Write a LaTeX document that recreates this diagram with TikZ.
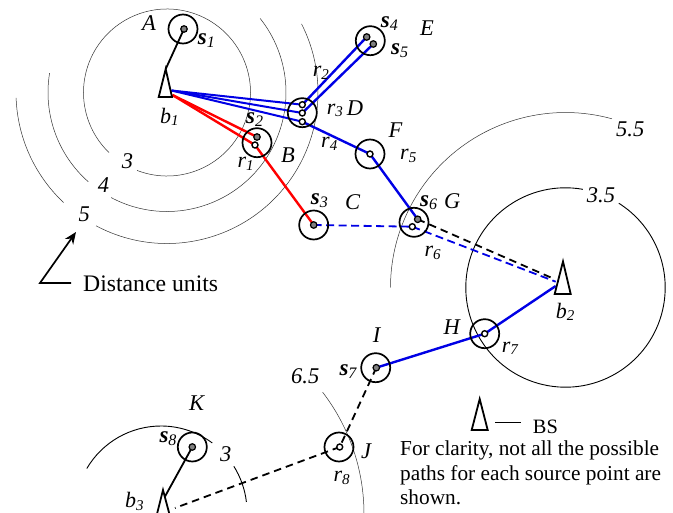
\documentclass[tikz,border=0pt]{standalone}
\usepackage{fontspec}
\setmainfont{Liberation Serif}
\usetikzlibrary{arrows.meta,backgrounds}
\newcommand\ringarc[5]{\draw[#1] ([shift={(-#4:#3)}]#2) arc[start angle=-#4,end angle=-#5,radius=#3];}
\newcommand\sLab[1]{{\fontsize{23}{24}\selectfont\bfseries\itshape s}\raisebox{-3pt}{\fontsize{16}{16}\selectfont\itshape #1}}
\newcommand\subLab[2]{{\fontsize{22}{24}\selectfont\itshape #1}\raisebox{-2.5pt}{\fontsize{15}{16}\selectfont\itshape #2}}
\tikzset{
  x=1pt,y=-1pt,
  ring/.style={circle,draw=black,line width=1.7pt,minimum size=29pt,inner sep=0pt},
  gdot/.style={circle,draw=black,fill=black!50,line width=1.2pt,minimum size=6.5pt,inner sep=0pt},
  wdot/.style={circle,draw=black,fill=white,line width=1.4pt,minimum size=6pt,inner sep=0pt},
  lab/.style={anchor=base west,inner sep=0pt,font=\fontsize{22.5}{24}\selectfont\itshape},
  plain/.style={anchor=base west,inner sep=0pt},
  thinarc/.style={line width=0.5pt,black!80},
  solidarc/.style={line width=0.9pt,black},
  bsmark/.style={line width=1.8pt,line join=miter,draw=black},
  bluelink/.style={line width=2.4pt,blue!90!black},
  redlink/.style={line width=2.4pt,red},
  blacklink/.style={line width=1.8pt,black},
  bluedash/.style={line width=1.8pt,blue!90!black,dash pattern=on 8pt off 4.5pt},
  blackdash/.style={line width=1.8pt,black,dash pattern=on 7.5pt off 5pt},
}
\begin{document}
\begin{tikzpicture}
\useasboundingbox (0,0) rectangle (673,513);
% centres of distance arcs
\coordinate (c1) at (167,92.5);
\coordinate (c2) at (565.5,287.5);
\coordinate (c3) at (161,512);
\coordinate (c4) at (164,514);
% base stations
\coordinate (b1a) at (165.7,69); \coordinate (b1l) at (158.7,97); \coordinate (b1r) at (172,97);
\coordinate (b1u) at (171.5,90.5); \coordinate (b1d) at (172.5,95);
\coordinate (b2a) at (563,261.5); \coordinate (b2l) at (554.7,294); \coordinate (b2r) at (570.7,294);
\coordinate (b2u) at (552.7,278.3); \coordinate (b2m) at (555.7,281.7); \coordinate (b2h) at (555.7,286);
\coordinate (b3a) at (163,490); \coordinate (b3l) at (155.5,520); \coordinate (b3r) at (171,520);
\coordinate (b3k) at (165,496.5); \coordinate (b3j) at (175,508);
\coordinate (la) at (479.7,399); \coordinate (ll) at (471.7,430); \coordinate (lr) at (487.7,430);
\coordinate (ln1) at (495.3,422.7); \coordinate (ln2) at (520.7,422.7);
\coordinate (ar0) at (71,283); \coordinate (ar1) at (40,283); \coordinate (ar2) at (76,232);
% rings
\node[ring] (A) at (183,29) {};
\node[ring] (B) at (257,142.7) {};
\node[ring] (C) at (313.7,225) {};
\node[ring] (D) at (302.3,112.7) {};
\node[ring] (E) at (370.3,40.7) {};
\node[ring] (F) at (370,154) {};
\node[ring] (G) at (414,222.3) {};
\node[ring] (H) at (484.7,333.7) {};
\node[ring] (I) at (375.7,367.7) {};
\node[ring] (J) at (339,447) {};
\node[ring] (K) at (192.3,447) {};
% points
\node[gdot] (s1) at (184,29) {};
\node[gdot] (s2) at (257,137) {};
\node[gdot] (s3) at (313.7,225) {};
\node[gdot] (s4) at (366.7,37) {};
\node[gdot] (s5) at (373.3,44) {};
\node[gdot] (s6) at (417.7,219.3) {};
\node[gdot] (s7) at (376.3,367.7) {};
\node[gdot] (s8) at (192.3,447) {};
\node[wdot] (r1) at (255,145) {};
\node[wdot] (r2) at (302.3,104.7) {};
\node[wdot] (r3) at (302.3,113) {};
\node[wdot] (r4) at (302.3,121.7) {};
\node[wdot] (r5) at (370,154) {};
\node[wdot] (r6) at (412.3,226.7) {};
\node[wdot] (r7) at (484.7,333.7) {};
\node[wdot] (r8) at (339.7,447) {};
\begin{scope}[on background layer]
\fill[white] (0,0) rectangle (673,513);
% distance arcs
\ringarc{thinarc}{c1}{83.5}{249}{586}
\ringarc{thinarc}{c1}{119}{242}{398.5}
\ringarc{thinarc}{c1}{119}{170.6}{228.6}
\ringarc{thinarc}{c1}{151}{242}{387}
\ringarc{thinarc}{c1}{151}{182}{226.8}
\ringarc{thinarc}{c2}{175}{74.6}{180}
\ringarc{solidarc}{c2}{99.7}{80}{417.7}
\ringarc{solidarc}{c3}{86}{149.6}{53.4}
\ringarc{solidarc}{c3}{86}{32.1}{6.7}
\ringarc{thinarc}{c4}{200}{37.5}{-3}
% links
\draw[blacklink] (s1.center) -- (b1a);
\draw[bluelink,line width=2pt] (b1u) -- (r2.center);
\draw[bluelink,line width=2pt] (b1u) -- (r3.center);
\draw[bluelink,line width=2pt] (b1u) -- (r4.center);
\draw[redlink] (b1d) -- (s2.center);
\draw[redlink] (b1d) -- (r1.center);
\draw[redlink] (r1.center) -- (s3.center);
\draw[bluelink] (r2.center) -- (s4.center);
\draw[bluelink] (r3.center) -- (s5.center);
\draw[bluelink] (r4.center) -- (r5.center);
\draw[bluelink] (r5.center) -- (s6.center);
\draw[bluedash] (s3.center) -- (r6.center);
\draw[bluedash] (r6.center) -- (b2m);
\draw[blackdash] (s6.center) -- (b2u);
\draw[bluelink] (r7.center) -- (b2h);
\draw[bluelink] (s7.center) -- (r7.center);
\draw[blackdash] (s7.center) -- (r8.center);
\draw[blackdash] (r8.center) -- (b3j);
\draw[blacklink] (s8.center) -- (b3k);
\end{scope}
% base station marks
\draw[bsmark] (b1a) -- (b1l) -- (b1r) -- cycle;
\draw[bsmark] (b2a) -- (b2l) -- (b2r) -- cycle;
\draw[bsmark] (b3a) -- (b3l) -- (b3r) -- cycle;
\draw[bsmark] (la) -- (ll) -- (lr) -- cycle;
\draw[line width=1.5pt] (ln1) -- (ln2);
% distance arrow
\draw[line width=1.7pt,-{Stealth[length=12pt,width=10pt]}] (ar0) -- (ar1) -- (ar2);
% labels
\node[lab] (tA) at (142,31) {A};
\node[lab] (tB) at (281,163) {B};
\node[lab] (tC) at (345,209.3) {C};
\node[lab] (tD) at (346.7,115.7) {D};
\node[lab] (tE) at (420,36) {E};
\node[lab] (tF) at (388.3,137.7) {F};
\node[lab] (tG) at (444,209) {G};
\node[lab] (tH) at (443.3,334.3) {H};
\node[lab] (tI) at (372.7,342.7) {I};
\node[lab] (tJ) at (361,458.3) {J};
\node[lab] (tK) at (189,410.7) {K};
\node[plain] (ts1) at (197.7,44.3) {\sLab{1}};
\node[plain] (ts2) at (246,124) {\sLab{2}};
\node[plain] (ts3) at (310.7,205) {\sLab{3}};
\node[plain] (ts4) at (380.7,27.3) {\sLab{4}};
\node[plain] (ts5) at (391,55) {\sLab{5}};
\node[plain] (ts6) at (420,206.7) {\sLab{6}};
\node[plain] (ts7) at (339.3,375.7) {\sLab{7}};
\node[plain] (ts8) at (159.3,442.3) {\sLab{8}};
\node[plain] (tr1) at (237.3,167.7) {\subLab{r}{1}};
\node[plain] (tr2) at (312.7,76.7) {\subLab{r}{2}};
\node[plain] (tr3) at (326.7,114.3) {\subLab{r}{3}};
\node[plain] (tr4) at (321,147.7) {\subLab{r}{4}};
\node[plain] (tr5) at (400,160) {\subLab{r}{5}};
\node[plain] (tr6) at (424.3,256.7) {\subLab{r}{6}};
\node[plain] (tr7) at (501.7,352.3) {\subLab{r}{7}};
\node[plain] (tr8) at (333.3,481.7) {\subLab{r}{8}};
\node[plain] (tb1) at (160,123.3) {\subLab{b}{1}};
\node[plain] (tb2) at (555.7,318.3) {\subLab{b}{2}};
\node[plain] (tb3) at (125,507.5) {\subLab{b}{3}};
\node[lab] (d3) at (121.7,168.3) {3};
\node[lab] (d4) at (97.7,192.7) {4};
\node[lab] (d5) at (78.3,221.7) {5};
\node[lab] (d55) at (616,136.7) {5.5};
\node[lab] (d35) at (586.7,202.7) {3.5};
\node[lab] (d65) at (291,383.3) {6.5};
\node[lab] (d3b) at (220,461.7) {3};
\node[plain,font=\fontsize{23.7}{28}\selectfont] (tdist) at (83,291.7) {Distance units};
\node[plain,font=\fontsize{20.4}{24}\selectfont] (tbs) at (532.7,433.3) {BS};
\node[plain,font=\fontsize{21.3}{24}\selectfont] (tn1) at (400,456) {For clarity, not all the possible};
\node[plain,font=\fontsize{21.3}{24}\selectfont] (tn2) at (400,480) {paths for each source point are};
\node[plain,font=\fontsize{21.3}{24}\selectfont] (tn3) at (400,504) {shown.};
\end{tikzpicture}
\end{document}
